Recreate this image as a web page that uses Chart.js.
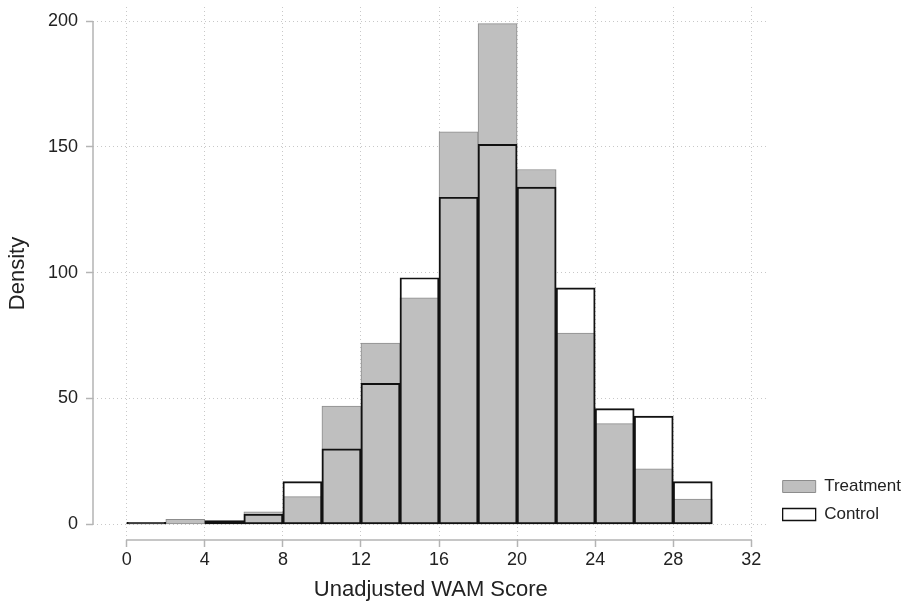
<!DOCTYPE html>
<html><head><meta charset="utf-8">
<script src="https://cdn.jsdelivr.net/npm/chart.js@4"></script>
<style>html,body{margin:0;padding:0;background:#fff}</style>
</head><body>
<canvas id="c" width="914" height="601"></canvas>
<script>
// Histogram bins of width 2 (centers)
const binCenters = [1, 3, 5, 7, 9, 11, 13, 15, 17, 19, 21, 23, 25, 27, 29];
const treatment  = [0.4, 2, 0.8, 5, 11, 47, 72, 90, 156, 199, 141, 76, 40, 22, 10];
const control    = [0.8, 0, 1.5, 4, 17, 30, 56, 98, 130, 151, 134, 94, 46, 43, 17];
const xTicks = [0, 4, 8, 12, 16, 20, 24, 28, 32];
const yTicks = [0, 50, 100, 150, 200];

const FONT = "'Liberation Sans', Arial, Helvetica, sans-serif";
const AXIS = '#b4b4b4';

const axisLines = {
  id: 'axisLines',
  afterLayout(chart) {
    const L = chart.legend;
    if (L) { L.left += 3; L.right += 3; L.top -= 6; L.bottom -= 6; }
  },
  beforeDatasetsDraw(chart) {
    const {ctx, chartArea, scales: {x, y}} = chart;
    ctx.save();
    ctx.strokeStyle = AXIS;
    ctx.lineWidth = 1.5;
    ctx.beginPath();
    ctx.moveTo(x.getPixelForValue(xTicks[0]), chartArea.bottom);
    ctx.lineTo(x.getPixelForValue(xTicks[xTicks.length - 1]), chartArea.bottom);
    ctx.moveTo(chartArea.left, y.getPixelForValue(yTicks[0]));
    ctx.lineTo(chartArea.left, y.getPixelForValue(yTicks[yTicks.length - 1]));
    ctx.stroke();
    ctx.restore();
  }
};

const zeroPad = s => { s.paddingTop = 0; s.paddingBottom = 0; s.paddingLeft = 0; s.paddingRight = 0; };

new Chart(document.getElementById('c'), {
  type: 'bar',
  data: {
    datasets: [
      {
        label: 'Treatment',
        data: binCenters.map((c, i) => ({x: c, y: treatment[i]})),
        backgroundColor: '#bfbfbf',
        borderColor: '#8c8c8c',
        borderWidth: 1,
        borderSkipped: false,
        grouped: false,
        barPercentage: 1,
        categoryPercentage: 1,
        order: 2
      },
      {
        label: 'Control',
        data: binCenters.map((c, i) => ({x: c, y: control[i]})),
        backgroundColor: 'rgba(255,255,255,0)',
        borderColor: '#111',
        borderWidth: 1.3,
        borderSkipped: false,
        grouped: false,
        barPercentage: 1,
        categoryPercentage: 1,
        order: 1
      }
    ]
  },
  options: {
    responsive: false,
    devicePixelRatio: 1,
    animation: false,
    layout: {padding: {top: 7, right: 6, left: 0, bottom: 0}},
    plugins: {
      tooltip: {enabled: false},
      legend: {
        position: 'right',
        align: 'end',
        fullSize: false,
        labels: {
          boxWidth: 33,
          boxHeight: 12,
          padding: 11,
          color: '#222',
          font: {family: FONT, size: 17, lineHeight: 1},
          sort: (a, b) => a.datasetIndex - b.datasetIndex
        }
      }
    },
    scales: {
      x: {
        type: 'linear',
        offset: false,
        min: -1.73,
        max: 32.89,
        afterBuildTicks: s => { s.ticks = xTicks.map(v => ({value: v})); },
        afterFit: s => { s.height = 61; zeroPad(s); },
        grid: {offset: false, color: '#c8c8c8', lineWidth: 1, drawTicks: true, tickLength: 7,
               tickColor: AXIS, tickWidth: 1.5, tickBorderDash: []},
        border: {display: false, dash: [1, 3]},
        ticks: {color: '#222', padding: 2, maxRotation: 0, autoSkip: false,
                font: {family: FONT, size: 18}},
        title: {display: true, text: 'Unadjusted WAM Score', color: '#222',
                font: {family: FONT, size: 22, lineHeight: 1}, padding: {top: 2, bottom: 0}}
      },
      y: {
        type: 'linear',
        min: -6.24,
        max: 205.6,
        afterBuildTicks: s => { s.ticks = yTicks.map(v => ({value: v})); },
        afterFit: s => { s.width = 93; zeroPad(s); },
        grid: {color: '#c8c8c8', lineWidth: 1, drawTicks: true, tickLength: 7,
               tickColor: AXIS, tickWidth: 1.5, tickBorderDash: []},
        border: {display: false, dash: [1, 3]},
        ticks: {color: '#222', padding: 8, font: {family: FONT, size: 18}},
        title: {display: true, text: 'Density', color: '#222',
                font: {family: FONT, size: 22, lineHeight: 1}, padding: {top: 7, bottom: 0}}
      }
    }
  },
  plugins: [axisLines]
});
</script>
</body></html>
